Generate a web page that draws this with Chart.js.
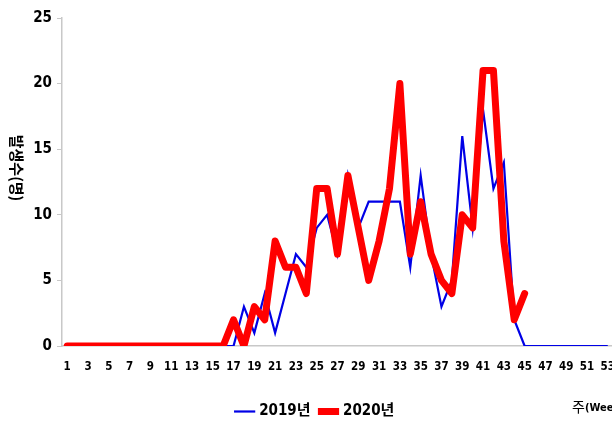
<!DOCTYPE html>
<html>
<head>
<meta charset="utf-8">
<script src="https://cdn.jsdelivr.net/npm/chart.js@4.4.0/dist/chart.umd.min.js"></script>
<style>
  html, body { margin: 0; padding: 0; background: #fff; overflow: hidden; }
  #wrap { width: 630px; height: 423px; }
</style>
</head>
<body>
<div id="wrap"><canvas id="chart" width="630" height="423"></canvas></div>
<script>
// weekly counts
const weeks = ['1','2','3','4','5','6','7','8','9','10','11','12','13','14','15','16','17','18',
  '19','20','21','22','23','24','25','26','27','28','29','30','31','32','33','34','35','36',
  '37','38','39','40','41','42','43','44','45','46','47','48','49','50','51','52','53'];
const cases2019 = [0,0,0,0,0,0,0,0,0,0,0,0,0,0,0,0,0,3,1,4,1,4,7,6,9,10,7,13,9,11,11,11,11,
  6,13,7,3,5,16,9,18,12,14,2,0,0,0,0,0,0,0,0,0];
const cases2020 = [0,0,0,0,0,0,0,0,0,0,0,0,0,0,0,0,2,0,3,2,8,6,6,4,12,12,7,13,9,5,8,12,20,
  7,11,7,5,4,10,9,21,21,8,2,4];
const yTicks = [0, 5, 10, 15, 20, 25];

const narrow = "'Liberation Sans Narrow', 'DejaVu Sans Condensed', 'Noto Sans CJK KR', sans-serif";
const gridGrey = '#c8c8c8';

// y title is rotated clockwise, x title sits bottom right next to the legend
const axisTitles = {
    id: 'axisTitles',
    afterDraw(chart) {
        const ctx = chart.ctx;
        const area = chart.chartArea;
        ctx.save();
        ctx.fillStyle = '#000';
        ctx.font = "bold 15px 'Noto Sans CJK KR', sans-serif";
        ctx.textAlign = 'center';
        ctx.textBaseline = 'middle';
        ctx.translate(17, (area.top + area.bottom) / 2 - 14);
        ctx.rotate(Math.PI / 2);
        ctx.fillText('발생수(명)', 0, 0);
        ctx.restore();

        ctx.save();
        ctx.fillStyle = '#000';
        ctx.textBaseline = 'alphabetic';
        ctx.textAlign = 'left';
        let x = area.right - 41;
        ctx.font = "14px 'Noto Sans CJK KR', sans-serif";
        ctx.fillText('주', x, 412);
        x += ctx.measureText('주').width;
        ctx.font = "bold 11px " + narrow;
        ctx.fillText('(Week)', x, 411);
        ctx.restore();
    }
};

new Chart(document.getElementById('chart'), {
    type: 'line',
    data: {
        labels: weeks,
        datasets: [{
            label: '2019년',
            data: cases2019,
            borderColor: '#0000e6',
            backgroundColor: '#0000e6',
            borderWidth: 2.2,
            pointRadius: 0,
            tension: 0,
            order: 1
        }, {
            label: '2020년',
            data: cases2020,
            borderColor: '#ff0000',
            backgroundColor: '#ff0000',
            borderWidth: 7,
            borderCapStyle: 'round',
            borderJoinStyle: 'round',
            pointRadius: 0,
            tension: 0,
            order: 0
        }]
    },
    options: {
        responsive: false,
        animation: false,
        layout: { padding: { left: 19, top: 18, right: 17, bottom: -6 } },
        plugins: {
            tooltip: { enabled: false },
            legend: {
                position: 'bottom',
                labels: {
                    usePointStyle: true,
                    pointStyle: 'line',
                    boxWidth: 14,
                    color: '#000',
                    padding: 11,
                    font: { family: narrow, size: 15, weight: 'bold' },
                    sort: (a, b) => a.datasetIndex - b.datasetIndex
                }
            }
        },
        scales: {
            x: {
                offset: true,
                grid: { display: false },
                border: { display: true, color: gridGrey, width: 1.5 },
                ticks: {
                    autoSkip: false,
                    maxRotation: 0,
                    padding: 6,
                    color: '#000',
                    font: { family: narrow, size: 11.5, weight: 'bold' },
                    callback: (v, i) => (i % 2 === 0 ? weeks[i] : '')
                },
                afterFit(scale) { scale.height = 47; }
            },
            y: {
                min: 0,
                max: 25,
                afterBuildTicks(scale) { scale.ticks = yTicks.map(v => ({ value: v })); },
                grid: { display: true, drawOnChartArea: false, drawTicks: true, tickLength: 5, color: gridGrey },
                border: { display: true, color: gridGrey, width: 1.5 },
                ticks: {
                    padding: 5,
                    color: '#000',
                    font: { family: narrow, size: 15, weight: 'bold' }
                },
                afterFit(scale) { scale.width = 43; }
            }
        }
    },
    plugins: [axisTitles]
});
</script>
</body>
</html>
